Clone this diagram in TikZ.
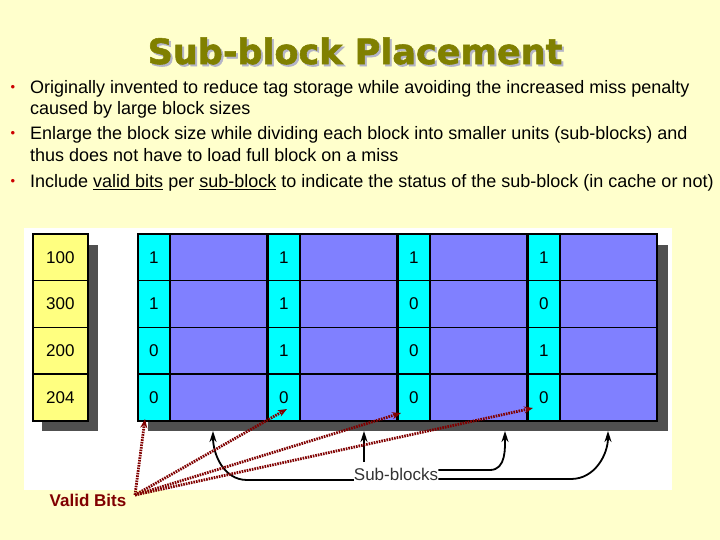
\documentclass[tikz,border=0pt]{standalone}
\usepackage{fontspec}
\setmainfont{Liberation Sans}
\newfontfamily\titlefont[BoldFeatures={FakeBold=1.5}]{DejaVu Sans}
\usetikzlibrary{arrows.meta}

\definecolor{slidebg}{RGB}{255,255,204}
\definecolor{tagyellow}{RGB}{255,255,128}
\definecolor{validcyan}{RGB}{0,255,255}
\definecolor{datablue}{RGB}{128,128,255}
\definecolor{shadowgrey}{RGB}{80,80,80}
\definecolor{titleolive}{RGB}{128,128,0}
\definecolor{titleshade}{RGB}{180,180,200}
\definecolor{darkred}{RGB}{128,0,0}
\definecolor{bulletred}{RGB}{204,0,0}

\newcommand{\titletext}{Sub-block Placement}

\begin{document}
\begin{tikzpicture}
  [x=1pt, y=-1pt,
   tagcell/.style={draw=black, line width=1.6pt, fill=tagyellow, minimum width=55pt, minimum height=46.75pt, inner sep=0pt, anchor=north west, font=\fontsize{17}{17}\selectfont},
   validcell/.style={draw=black, line width=1.6pt, fill=validcyan, minimum width=32pt, minimum height=46.75pt, inner sep=0pt, anchor=north west, font=\fontsize{17}{17}\selectfont},
   datacell/.style={draw=black, line width=1.6pt, fill=datablue, minimum width=98pt, minimum height=46.75pt, inner sep=0pt, anchor=north west},
   bodyline/.style={anchor=base west, inner sep=0pt, font=\fontsize{18}{21}\selectfont},
   bulletdot/.style={anchor=base, inner sep=0pt, text=bulletred, font=\fontsize{13}{13}\selectfont},
   subarrow/.style={black, line width=1.8pt, -{Stealth[length=11pt, width=7pt]}},
   validarrow/.style={darkred, line width=2.8pt, dash pattern=on 1.6pt off 1pt, -{Stealth[length=9pt, width=7pt]}}]

  % slide and figure panel
  \fill[slidebg] (0,0) rectangle (720,540);
  \useasboundingbox (0,0) rectangle (720,540);
  \fill[white] (24,228) rectangle (672,490);

  % title with its shadow
  \node[text=titleolive, font=\titlefont\bfseries\fontsize{35}{35}\selectfont] (title) at (355,52)
    {\makebox[0pt][l]{\hspace{2pt}\raisebox{-2pt}{\textcolor{titleshade}{\titletext}}}\titletext};

  % bullets
  \node[bulletdot] (d1) at (13,92) {\textbullet};
  \node[bodyline] (b1a) at (30,93.5) {Originally invented to reduce tag storage while avoiding the increased miss penalty};
  \node[bodyline] (b1b) at (30,114.5) {caused by large block sizes};
  \node[bulletdot] (d2) at (13,138) {\textbullet};
  \node[bodyline] (b2a) at (30,139.5) {Enlarge the block size while dividing each block into smaller units (sub-blocks) and};
  \node[bodyline] (b2b) at (30,162) {thus does not have to load full block on a miss};
  \node[bulletdot] (d3) at (13,186) {\textbullet};
  \node[bodyline] (b3) at (30,187.5) {Include \underline{valid bits} per \underline{sub-block} to indicate the status of the sub-block (in cache or not)};

  % shadows
  \fill[shadowgrey] (42,245) rectangle (98,431);
  \fill[shadowgrey] (148,245) rectangle (668,431);

  % tags and sub-blocks
  \foreach \tag/\a/\b/\c/\d [count=\r from 0] in {100/1/1/1/1, 300/1/1/0/0, 200/0/1/0/1, 204/0/0/0/0} {
    \node[tagcell] (t-\r) at (32,233+46.75*\r) {\tag};
    \foreach \v [count=\s from 0] in {\a,\b,\c,\d} {
      \node[datacell] (d-\r-\s) at (168+130*\s,233+46.75*\r) {};
      \node[validcell] (v-\r-\s) at (137+130*\s,233+46.75*\r) {\v};
    }
  }

  % sub-block arrows
  \node[inner sep=0pt, text=black!80, font=\fontsize{17}{17}\selectfont] (sblabel) at (396,474) {Sub-blocks};
  \coordinate (up1) at (213,431);
  \coordinate (up2) at (364,431);
  \coordinate (up3) at (505,431);
  \coordinate (up4) at (608,431);
  \draw[subarrow] (sblabel.west |- 0,480) -- (247,480) to[out=180, in=-90] (up1);
  \draw[subarrow] (364,462) -- (up2);
  \draw[subarrow] (sblabel.east |- 0,470) -- (490,470) to[out=0, in=-90] (up3);
  \draw[subarrow] (sblabel.east |- 0,479) -- (571,479) to[out=0, in=-90] (up4);

  % valid bit arrows
  \node[inner sep=0pt, text=darkred, font=\bfseries\fontsize{17}{17}\selectfont] (vbits) at (88,500) {Valid Bits};
  \coordinate (vbfoot) at (135,495);
  \coordinate (vb1) at (145,419);
  \coordinate (vb2) at (287,409);
  \coordinate (vb3) at (401,413);
  \coordinate (vb4) at (533,408);
  \foreach \to in {vb1, vb2, vb3, vb4}
    \draw[validarrow] (vbfoot) -- (\to);
\end{tikzpicture}
\end{document}
